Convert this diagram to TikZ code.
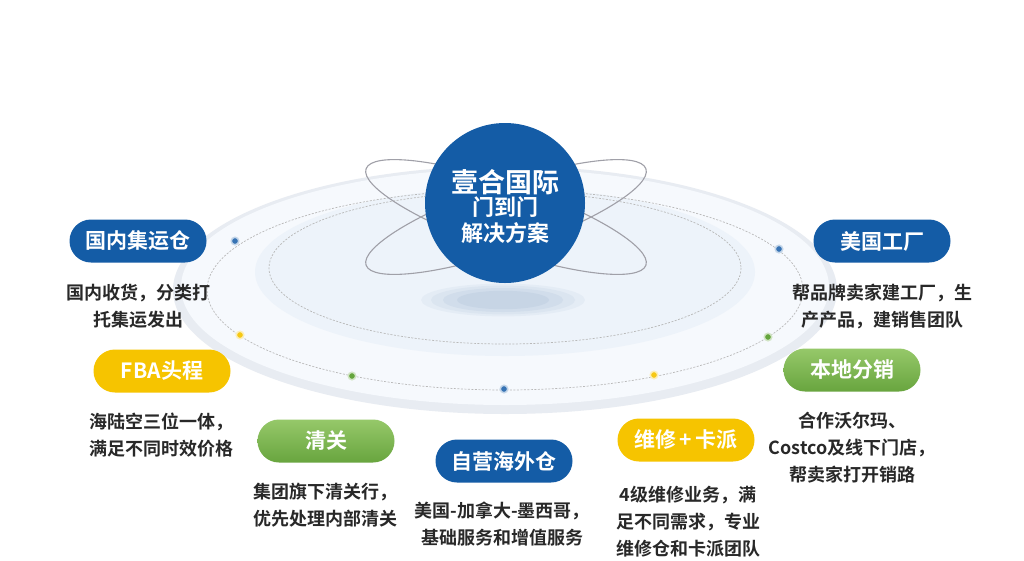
\documentclass[tikz,border=0pt]{standalone}
\usepackage{fontspec}
\newfontfamily\cjk{Noto Sans CJK SC}[BoldFont={Noto Sans CJK SC Bold}]
\definecolor{hubblue}{RGB}{20,92,166}
\definecolor{pillyellow}{RGB}{246,196,0}
\definecolor{pillgreen}{RGB}{104,165,62}
\definecolor{pillgreenlt}{RGB}{150,200,105}
\definecolor{txtgray}{RGB}{40,40,40}
\definecolor{orbitgray}{RGB}{160,160,168}
\definecolor{dotblue}{RGB}{55,115,180}
\definecolor{dotyellow}{RGB}{246,200,20}
\definecolor{dotgreen}{RGB}{100,165,60}
\definecolor{rimgray}{RGB}{232,236,242}
\definecolor{platelt}{RGB}{246,249,253}
\definecolor{platemid}{RGB}{237,243,250}
\definecolor{shadowblue}{RGB}{170,190,215}
\tikzset{
  pill/.style={rectangle,rounded corners=21.5pt,minimum width=137pt,minimum height=43pt,
    inner sep=0pt,text=white,font=\cjk\bfseries\fontsize{21}{21}\selectfont},
  bluepill/.style={pill,fill=hubblue},
  yellowpill/.style={pill,fill=pillyellow},
  greenpill/.style={pill,top color=pillgreenlt,bottom color=pillgreen},
  desc/.style={align=center,text=txtgray,inner sep=0pt,
    font=\cjk\bfseries\fontsize{18}{27}\selectfont},
  dot/.style={circle,inner sep=0pt,minimum size=7.5pt,line width=1.5pt},
  orbit/.style={draw=orbitgray,line width=1.1pt},
  ring/.style={draw=gray!55,line width=.7pt,dash pattern=on 2pt off 1.5pt}
}
\begin{document}
\begin{tikzpicture}[x=1pt,y=-1pt]
  \useasboundingbox[fill=white] (0,0) rectangle (1024,560);

  % platform
  \fill[rimgray] (505,290) ellipse [x radius=332, y radius=124];
  \fill[platelt] (505,287) ellipse [x radius=324, y radius=118];
  \fill[platemid] (505,272) ellipse [x radius=250, y radius=84];
  \draw[ring] (505,290) ellipse [x radius=298, y radius=100];
  \draw[ring] (505,268) ellipse [x radius=236, y radius=76];

  % orbits
  \draw[orbit,rotate around={19:(506,217)}] (506,217) ellipse [x radius=148, y radius=33];
  \draw[orbit,rotate around={-19:(506,217)}] (506,217) ellipse [x radius=148, y radius=33];

  % shadow under the hub
  \foreach \r/\o in {82/.12,72/.15,60/.2,46/.25}
    \fill[shadowblue,opacity=\o] (503,300) ellipse [x radius=\r, y radius=\r/5];

  % hub
  \node[circle,fill=hubblue,minimum size=160pt,inner sep=0pt] (hub) at (505,203) {};
  \node[text=white,font=\cjk\bfseries\fontsize{27}{27}\selectfont] (hubtitle) at (505,182) {壹合国际};
  \node[text=white,align=center,font=\cjk\bfseries\fontsize{22}{26}\selectfont] (hubsub) at (505,220) {门到门\\解决方案};

  % dots on the rings
  \foreach \name/\x/\y/\col in {d1/235/241/dotblue,d2/240/335/dotyellow,d3/352/376/dotgreen,
      d4/504/389/dotblue,d5/654/375/dotyellow,d6/768/337/dotgreen,d7/779/249/dotblue}
    \node[dot,fill=\col,draw=\col!30] (\name) at (\x,\y) {};

  % services
  \node[bluepill] (jiyun) at (138,241) {国内集运仓};
  \node[desc] (jiyuntxt) at (138,306) {国内收货，分类打\\托集运发出};

  \node[yellowpill] (fba) at (162,371) {FBA头程};
  \node[desc] (fbatxt) at (161,435) {海陆空三位一体，\\满足不同时效价格};

  \node[greenpill] (qingguan) at (326,441) {清关};
  \node[desc] (qingguantxt) at (325,505) {集团旗下清关行，\\优先处理内部清关};

  \node[bluepill] (haiwai) at (504,461) {自营海外仓};
  \node[desc] (haiwaitxt) at (502,524) {美国-加拿大-墨西哥，\\基础服务和增值服务};

  \node[yellowpill] (weixiu) at (686,440) {维修\,+\,卡派};
  \node[desc] (weixiutxt) at (688,522) {4级维修业务，满\\足不同需求，专业\\维修仓和卡派团队};

  \node[greenpill] (fenxiao) at (852,370) {本地分销};
  \node[desc] (fenxiaotxt) at (852,448) {合作沃尔玛、\\Costco及线下门店，\\帮卖家打开销路};

  \node[bluepill] (gongchang) at (882,241) {美国工厂};
  \node[desc] (gongchangtxt) at (882,306) {帮品牌卖家建工厂，生\\产产品，建销售团队};

\end{tikzpicture}
\end{document}
